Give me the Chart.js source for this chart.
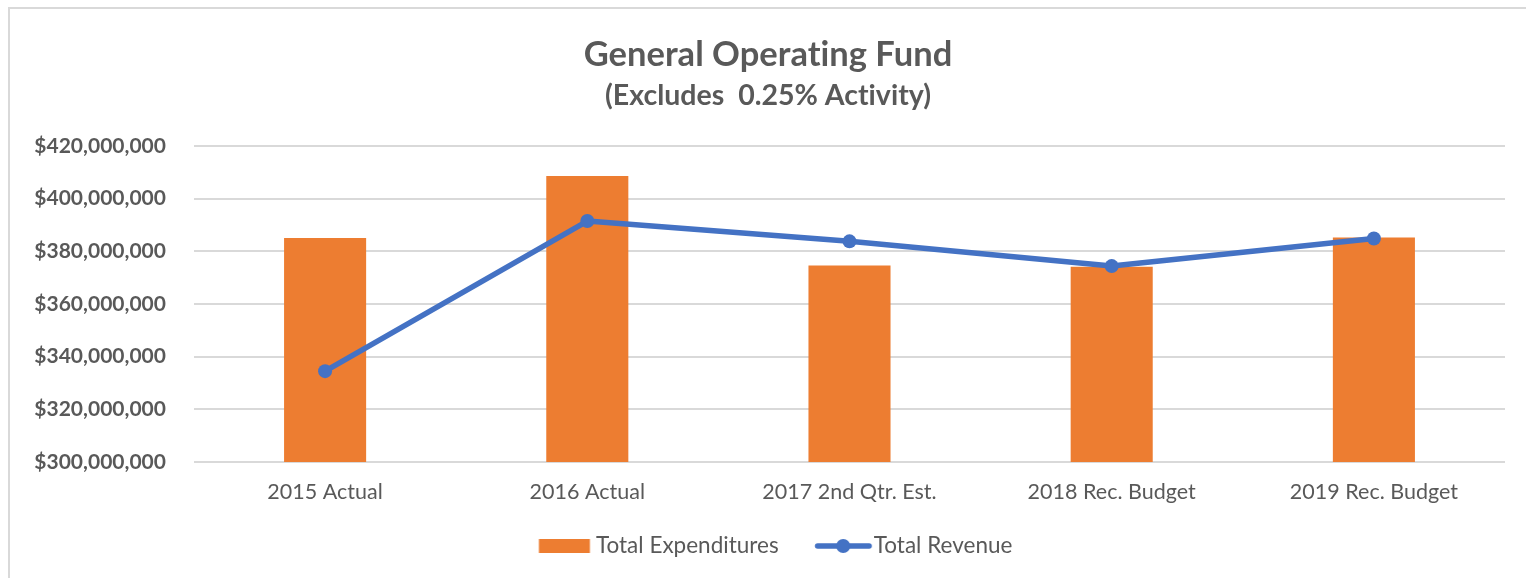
<!DOCTYPE html>
<html><head><meta charset="utf-8">
<script src="https://cdn.jsdelivr.net/npm/chart.js@4/dist/chart.umd.min.js"></script>
<style>
html,body{margin:0;padding:0;background:#fff;}
#wrap{position:relative;width:1526px;height:578px;overflow:hidden;background:#fff;}
#frame{position:absolute;left:8px;top:7px;width:1600px;height:700px;border-top:2px solid #d9d9d9;border-left:2px solid #d9d9d9;box-sizing:border-box;pointer-events:none;}
canvas{position:absolute;left:0;top:0;}
</style></head><body>
<div id="wrap"><canvas id="c" width="1526" height="578"></canvas><div id="frame"></div></div>
<script>
const categories = ['2015 Actual', '2016 Actual', '2017 2nd Qtr. Est.', '2018 Rec. Budget', '2019 Rec. Budget'];
const expenditures = [385100000, 408600000, 374600000, 374100000, 385300000];
const revenue = [334500000, 391500000, 383800000, 374400000, 384900000];
const yMin = 300000000, yMax = 420000000, yStep = 20000000;

const TEXT = '#595959', ORANGE = '#ed7d31', BLUE = '#4472c4', GRID = '#d9d9d9';
const FONT = 'Lato';

function barSwatch() {
  const c = document.createElement('canvas'); c.width = 90; c.height = 16;
  const g = c.getContext('2d'); g.fillStyle = ORANGE; g.fillRect(29.6, 1, 51, 14);
  return c;
}
function lineSwatch() {
  const c = document.createElement('canvas'); c.width = 90; c.height = 16;
  const g = c.getContext('2d');
  g.strokeStyle = BLUE; g.lineWidth = 5.5; g.lineCap = 'round';
  g.beginPath(); g.moveTo(30.5, 8); g.lineTo(82, 8); g.stroke();
  g.fillStyle = BLUE; g.beginPath(); g.arc(56.1, 8, 7, 0, Math.PI * 2); g.fill();
  return c;
}
const swatches = [barSwatch(), lineSwatch()];

const noLigatures = {
  id: 'noLigatures',
  beforeDraw(chart) { if ('letterSpacing' in chart.ctx) chart.ctx.letterSpacing = '0.01px'; }
};

new Chart(document.getElementById('c'), {
  plugins: [noLigatures],
  data: {
    labels: categories,
    datasets: [
      { type: 'line', label: 'Total Revenue', data: revenue, borderColor: BLUE, backgroundColor: BLUE,
        borderWidth: 5.5, pointRadius: 7, pointBorderWidth: 0, pointBackgroundColor: BLUE,
        tension: 0, borderJoinStyle: 'round', borderCapStyle: 'round', order: 1 },
      { type: 'bar', label: 'Total Expenditures', data: expenditures, backgroundColor: ORANGE,
        borderWidth: 0, categoryPercentage: 1, barPercentage: 0.313, order: 2 }
    ]
  },
  options: {
    responsive: false, animation: false, devicePixelRatio: 1,
    layout: { padding: { left: 31, right: 21, top: 0, bottom: 10.75 } },
    plugins: {
      tooltip: { enabled: false },
      title: { display: true, text: 'General Operating Fund', color: TEXT,
        font: { family: FONT, size: 34.5, weight: 'bold', lineHeight: 1.2 }, padding: { top: 34.3, bottom: 0 } },
      subtitle: { display: true, text: '(Excludes  0.25% Activity)', color: TEXT,
        font: { family: FONT, size: 28.5, weight: 'bold', lineHeight: 1.2 }, padding: { top: 3.2, bottom: 32.9 } },
      legend: { position: 'bottom', align: 'center',
        labels: { usePointStyle: true, pointStyleWidth: 60.75, padding: 23, color: TEXT,
          font: { family: FONT, size: 22.5 },
          generateLabels: () => [
            { text: 'Total Expenditures', pointStyle: swatches[0], fillStyle: ORANGE, strokeStyle: ORANGE, lineWidth: 0, hidden: false, datasetIndex: 1, fontColor: TEXT },
            { text: 'Total Revenue', pointStyle: swatches[1], fillStyle: BLUE, strokeStyle: BLUE, lineWidth: 0, hidden: false, datasetIndex: 0, fontColor: TEXT }
          ] } }
    },
    scales: {
      x: { grid: { display: false, drawTicks: false }, border: { display: false },
        afterFit: s => { s.height = 49.75; },
        ticks: { color: TEXT, padding: 17, font: { family: FONT, size: 21.5, lineHeight: 1.2 } } },
      y: { min: yMin, max: yMax,
        grid: { color: GRID, lineWidth: 2, drawTicks: false }, border: { display: false },
        afterFit: s => { s.width = 163; },
        ticks: { stepSize: yStep, color: TEXT, padding: 28,
          font: { family: FONT, size: 21, weight: 'bold' },
          callback: v => '$' + Number(v).toLocaleString('en-US') } }
    }
  }
});
</script>
</body></html>
